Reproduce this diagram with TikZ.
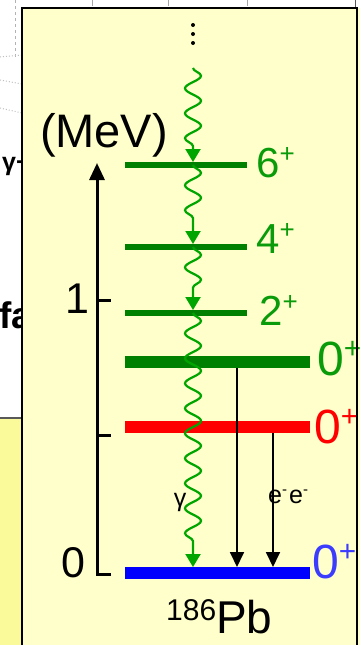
\documentclass[tikz,border=0pt]{standalone}
\usepackage{fontspec}
\setmainfont{Liberation Sans}
\usepackage{graphicx}
\usetikzlibrary{arrows.meta,decorations.pathmorphing}

\definecolor{panelyellow}{RGB}{255,255,204}
\definecolor{boxyellow}{RGB}{250,250,155}
\definecolor{lvgreen}{RGB}{0,128,0}
\definecolor{txtgreen}{RGB}{10,155,10}
\definecolor{wavegreen}{RGB}{0,165,0}
\definecolor{lvred}{RGB}{255,0,0}
\definecolor{lvblue}{RGB}{0,0,255}
\definecolor{txtblue}{RGB}{60,60,255}

% spin-parity label: digit with raised sign
\newcommand{\jpi}[2]{#1\raisebox{.34em}{\scalebox{.62}{#2}}}

\begin{document}
\begin{tikzpicture}[x=1pt,y=-1pt]
\tikzset{
  level/.style={rectangle,inner sep=0pt,outer sep=0pt,minimum width=122pt,minimum height=6pt,fill=lvgreen},
  band/.style={rectangle,inner sep=0pt,outer sep=0pt,minimum width=185pt,minimum height=12pt},
  lvlabel/.style={inner sep=0pt,anchor=base west,font=\fontsize{42}{42}\selectfont,text=txtgreen},
  bandlabel/.style={inner sep=0pt,anchor=base west,font=\fontsize{48}{48}\selectfont},
  axislabel/.style={inner sep=0pt,anchor=base east,font=\fontsize{43}{43}\selectfont},
  gammaray/.style={wavegreen,line width=2.2pt,decorate,
    decoration={snake,amplitude=8pt,segment length=25pt,post length=14pt},
    -{Triangle[width=15pt,length=13pt]}},
  conv/.style={line width=1.8pt,-{Triangle[width=14pt,length=15pt]}},
  axisline/.style={line width=3pt}
}
\useasboundingbox (0,0) rectangle (360,645);
% what shows of the slide behind
\fill[white] (0,0) rectangle (360,645);
\fill[boxyellow] (0,418) rectangle (22,645);
\draw[gray!70!black,line width=1.5pt] (0,418) -- (22,418);
\draw[gray!60,dashed,line width=.8pt] (15,0) -- (15,58);
\draw[gray!50,dotted,line width=1pt] (0,57) -- (22,55);
\draw[gray!50,dotted,line width=1pt] (0,80) -- (22,84);
\draw[gray!50,dotted,line width=1pt] (0,108) -- (22,113);
\draw[gray!70,line width=.8pt] (92,0) -- (92,6);
\draw[gray!70,line width=.8pt] (168,0) -- (168,6);
\draw[gray!70,line width=.8pt] (247,0) -- (247,6);
\node[inner sep=0pt,anchor=base west,font=\fontsize{25}{25}\selectfont\bfseries] (bgg) at (2,170) {γ+};
\node[inner sep=0pt,anchor=base west,font=\fontsize{37}{37}\selectfont\bfseries] (bgfa) at (-1,328) {fa};
% panel
\fill[panelyellow] (22,8) rectangle (360,660);
\draw[gray!70!black,line width=1pt] (355,0) -- (355,8);

% energy axis
\coordinate (ax0) at (97,574);
\coordinate (axtop) at (97,163);
\draw[axisline,-{Triangle[width=15pt,length=17pt]}] (111,574) -- (ax0) -- (axtop);
\coordinate (tick1) at (97,300);
\coordinate (tickh) at (97,435);
\draw[axisline] (tick1) -- ++(14,0);
\draw[axisline] (tickh) -- ++(14,0);
\node[inner sep=0pt,anchor=base,font=\fontsize{47}{47}\selectfont] (unit) at (104,147) {(MeV)};
\node[axislabel] (e1) at (90,313) {1};
\node[axislabel] (e0) at (86,577) {0};

% levels of 186Pb
\node[level] (l6) at (186,165) {};
\node[level] (l4) at (186,247) {};
\node[level] (l2) at (186,313) {};
\node[band,fill=lvgreen] (l0c) at (217.5,362) {};
\node[band,fill=lvred] (l0r) at (217.5,427) {};
\node[band,fill=lvblue] (l0g) at (217.5,573) {};

\node[lvlabel] (j6) at (256,177) {\jpi{6}{+}};
\node[lvlabel] (j4) at (256,253) {\jpi{4}{+}};
\node[lvlabel] (j2) at (259,325) {\jpi{2}{+}};
\node[bandlabel,text=txtgreen] (j0c) at (317,375) {\jpi{0}{+}};
\node[bandlabel,text=lvred] (j0r) at (314,443) {\jpi{0}{+}};
\node[bandlabel,text=txtblue] (j0g) at (312,578) {\jpi{0}{+}};

% gamma cascade
\node[circle,fill,inner sep=0pt,minimum size=4pt] (dot1) at (193,25) {};
\node[circle,fill,inner sep=0pt,minimum size=4pt] (dot2) at (193,34) {};
\node[circle,fill,inner sep=0pt,minimum size=4pt] (dot3) at (193,43) {};
\coordinate (gtop) at (193,68);
\draw[gammaray] (gtop) -- (gtop |- l6.north);
\draw[gammaray] (gtop |- l6.center) -- (gtop |- l4.north);
\draw[gammaray] (gtop |- l4.center) -- (gtop |- l2.north);
\draw[gammaray] (gtop |- l2.center) -- (gtop |- l0g.north);
\node[inner sep=0pt,font=\fontsize{25}{25}\selectfont] (glbl) at (180,502) {γ};

% E0 transitions
\coordinate (eo) at (237,0);
\coordinate (ce) at (273,0);
\draw[conv] (eo |- l0c.south) -- (eo |- l0g.north);
\draw[conv] (ce |- l0r.south) -- (ce |- l0g.north);
\node[inner sep=0pt,anchor=base west,font=\fontsize{25}{25}\selectfont] (ee) at (268,503)
  {e\raisebox{.35em}{\scalebox{.6}{-}}\kern2pt e\raisebox{.35em}{\scalebox{.6}{-}}};

\node[inner sep=0pt,anchor=base west] (nuc) at (166,633)
  {{\fontsize{30}{30}\selectfont\raisebox{13pt}{186}}{\fontsize{46}{46}\selectfont Pb}};

% panel border on top
\draw[line width=2pt] (22,660) -- (22,8) -- (357,8) -- (357,660);
\end{tikzpicture}
\end{document}
